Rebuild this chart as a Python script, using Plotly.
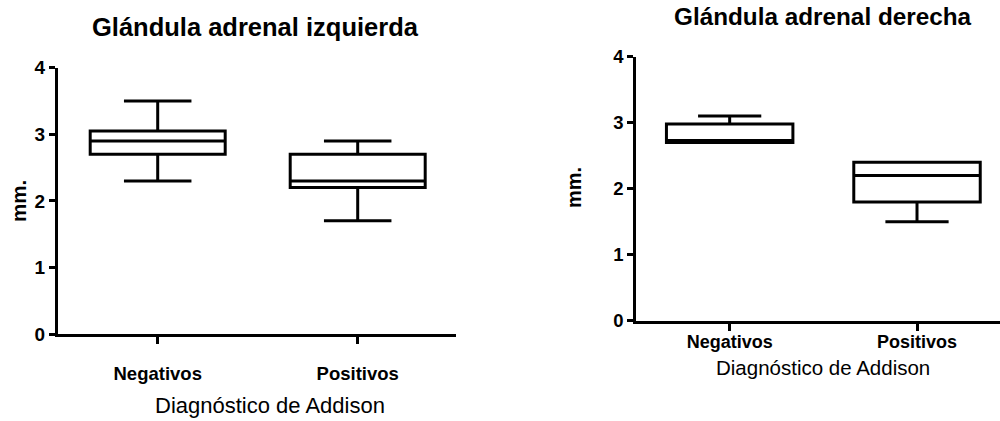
import plotly.graph_objects as go

categories = ["Negativos", "Positivos"]

# Glándula adrenal izquierda
izq_lower = [2.3, 1.7]
izq_q1 = [2.7, 2.2]
izq_median = [2.9, 2.3]
izq_q3 = [3.05, 2.7]
izq_upper = [3.5, 2.9]

# Glándula adrenal derecha
der_lower = [2.7, 1.5]
der_q1 = [2.7, 1.8]
der_median = [2.73, 2.2]
der_q3 = [2.98, 2.4]
der_upper = [3.1, 2.4]

y_ticks = [0, 1, 2, 3, 4]

FONT = "Liberation Sans, Arial, sans-serif"
BLACK = "#000000"

fig = go.Figure()

box_style = dict(
    line=dict(color=BLACK, width=3),
    fillcolor="rgba(255,255,255,0)",
    whiskerwidth=0.5,
    width=0.675,
    boxpoints=False,
    showlegend=False,
    hoverinfo="skip",
)

fig.add_trace(go.Box(x=categories, q1=izq_q1, median=izq_median, q3=izq_q3,
                     lowerfence=izq_lower, upperfence=izq_upper,
                     xaxis="x", yaxis="y", **box_style))
fig.add_trace(go.Box(x=categories, q1=der_q1, median=der_median, q3=der_q3,
                     lowerfence=der_lower, upperfence=der_upper,
                     xaxis="x2", yaxis="y2", **box_style))

W, H = 1000, 421

def xa(domain, rng, size, standoff):
    return dict(domain=domain, type="category", range=rng, showline=True,
                linecolor=BLACK, linewidth=2.7, ticks="outside", ticklen=7,
                tickwidth=2.7, tickcolor=BLACK, showgrid=False, zeroline=False,
                tickfont=dict(family=FONT, size=size, color=BLACK, weight="bold"),
                ticklabelstandoff=standoff, automargin=False, fixedrange=True)

def ya(domain, anchor, size):
    return dict(domain=domain, anchor=anchor, range=[0, 4], tickvals=y_ticks,
                showline=True, linecolor=BLACK, linewidth=2.7, ticks="outside",
                ticklen=6, tickwidth=2.7, tickcolor=BLACK, showgrid=False,
                zeroline=False, automargin=False,
                tickfont=dict(family=FONT, size=size, color=BLACK, weight="bold"),
                fixedrange=True)

def note(text, x, y, size, angle=0):
    return dict(text=text, x=x / W, y=1 - y / H, xref="paper", yref="paper",
                xanchor="center", yanchor="middle", textangle=angle,
                showarrow=False, font=dict(family=FONT, size=size, color=BLACK))

fig.update_layout(
    width=W, height=H,
    margin=dict(l=0, r=0, t=0, b=0, autoexpand=False),
    paper_bgcolor="white", plot_bgcolor="white",
    xaxis=dict(**xa([57.7 / W, 455.7 / W], [-0.5, 1.49], 18.5, 14), anchor="y"),
    yaxis=ya([1 - 334 / H, 1 - 67.7 / H], "x", 19),
    xaxis2=dict(**xa([636 / W, 1.0], [-0.5, 1.443], 18, -4), anchor="y2"),
    yaxis2=ya([1 - 320.7 / H, 1 - 56.7 / H], "x2", 18.5),
    annotations=[
        note("<b>Glándula adrenal izquierda</b>", 255, 27, 25.5),
        note("<b>Glándula adrenal derecha</b>", 823, 16, 24.3),
        note("<b>mm.</b>", 18, 201, 20.5, -90),
        note("<b>mm.</b>", 574, 188, 20, -90),
        note("Diagnóstico de Addison", 270, 405, 22),
        note("Diagnóstico de Addison", 822.5, 367.5, 20.5),
    ],
)

fig.write_html("out.html", config={"displayModeBar": False},
               post_script="document.body.style.margin='0';")
